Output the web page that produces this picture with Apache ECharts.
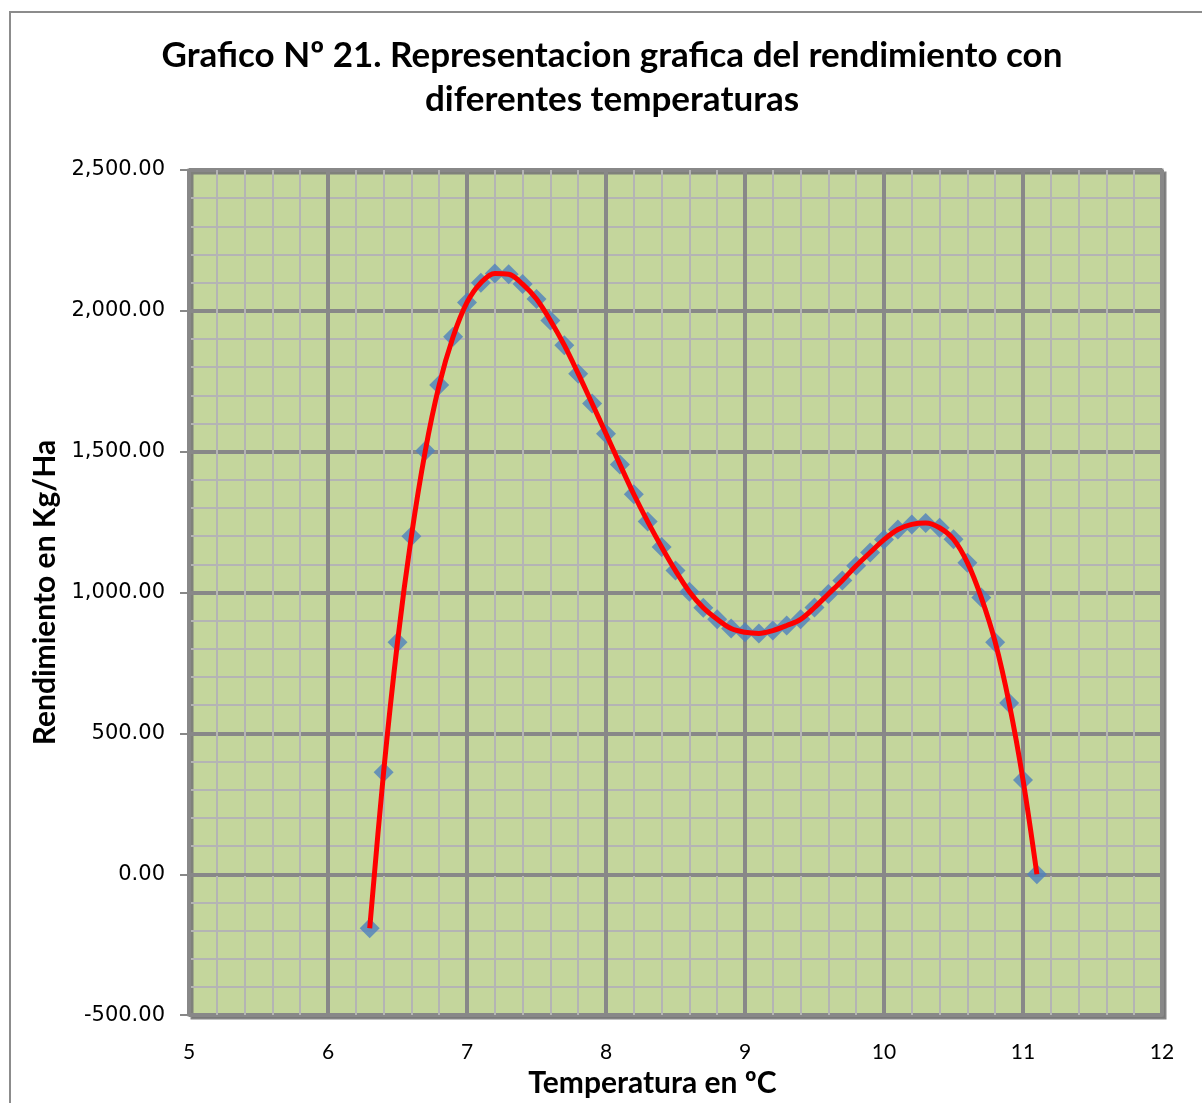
<!DOCTYPE html>
<html>
<head>
<meta charset="utf-8">
<script src="https://cdn.jsdelivr.net/npm/echarts@6/dist/echarts.min.js"></script>
<style>
  html, body { margin: 0; padding: 0; background: #fff; }
  #chart { width: 1202px; height: 1103px; }
</style>
</head>
<body>
<div id="chart"></div>
<script>
// temperaturas (ºC) y rendimiento (Kg/Ha)
const temperaturas = [
  6.3, 6.4, 6.5, 6.6, 6.7, 6.8, 6.9, 7.0, 7.1, 7.2,
  7.3, 7.4, 7.5, 7.6, 7.7, 7.8, 7.9, 8.0, 8.1, 8.2,
  8.3, 8.4, 8.5, 8.6, 8.7, 8.8, 8.9, 9.0, 9.1, 9.2,
  9.3, 9.4, 9.5, 9.6, 9.7, 9.8, 9.9, 10.0, 10.1, 10.2,
  10.3, 10.4, 10.5, 10.6, 10.7, 10.8, 10.9, 11.0, 11.1
]
const rendimiento = [
  -192, 362, 824, 1200, 1503, 1737, 1908, 2030, 2100, 2133,
  2130, 2095, 2042, 1966, 1878, 1777, 1671, 1564, 1455, 1349,
  1252, 1162, 1078, 1003, 946, 905, 872, 859, 855, 865,
  883, 905, 947, 995, 1043, 1095, 1142, 1188, 1224, 1242,
  1247, 1230, 1189, 1106, 982, 824, 608, 335, 0
]
const xTicks = [5, 12, 1] // min, max, intervalo
const yTicks = [-500, 2500, 500]

const puntos = temperaturas.map((t, i) => [t, rendimiento[i]])

const chart = echarts.init(document.getElementById('chart'))

const option = {
  animation: false,
  backgroundColor: '#ffffff',
  title: {
    text: 'Grafico Nº 21. Representacion grafica del rendimiento con\ndiferentes temperaturas',
    left: 607,
    top: 29,
    textAlign: 'center',
    textStyle: {
      fontFamily: 'Lato',
      fontWeight: 'bold',
      fontSize: 35,
      lineHeight: 44,
      color: '#000'
    }
  },
  // borde del area del grafico
  graphic: [
    {
      type: 'rect',
      shape: { x: 10, y: 12, width: 1220, height: 1120 },
      style: { fill: 'none', stroke: '#8c8c8c', lineWidth: 2 },
      silent: true
    }
  ],
  grid: {
    left: 189,
    right: 40,
    top: 170,
    bottom: 82,
    show: true,
    backgroundColor: '#c4d69c',
    borderColor: '#888888',
    borderWidth: 3,
    shadowColor: 'rgba(120,120,120,0.9)',
    shadowOffsetX: 3,
    shadowOffsetY: 3
  },
  xAxis: {
    type: 'value',
    min: xTicks[0],
    max: xTicks[1],
    interval: xTicks[2],
    name: 'Temperatura en ºC',
    nameLocation: 'middle',
    nameGap: 51,
    nameTextStyle: {
      fontFamily: 'Lato',
      fontWeight: 'bold',
      fontSize: 30,
      color: '#000',
      padding: [0, 46, 0, 0]
    },
    axisLine: { show: true, lineStyle: { color: '#888888', width: 3 } },
    axisTick: { show: false },
    axisLabel: {
      margin: 27,
      fontFamily: 'Lato',
      fontSize: 21,
      color: '#000'
    },
    splitLine: { show: true, lineStyle: { color: '#888888', width: 4 } },
    minorTick: { show: false, splitNumber: 5 },
    minorSplitLine: { show: true, lineStyle: { color: '#b4b4b4', width: 2 } }
  },
  yAxis: {
    type: 'value',
    min: yTicks[0],
    max: yTicks[1],
    interval: yTicks[2],
    name: 'Rendimiento en Kg/Ha',
    nameLocation: 'middle',
    nameGap: 129,
    nameTextStyle: {
      fontFamily: 'Lato',
      fontWeight: 'bold',
      fontSize: 30,
      color: '#000'
    },
    axisLine: { show: true, lineStyle: { color: '#888888', width: 3 } },
    axisTick: { show: true, length: 9, lineStyle: { color: '#888888', width: 2 } },
    axisLabel: {
      margin: 24,
      fontFamily: 'DejaVu Sans',
      fontSize: 21,
      color: '#000',
      formatter: v => v.toLocaleString('en-US', { minimumFractionDigits: 2, maximumFractionDigits: 2 })
    },
    splitLine: { show: true, lineStyle: { color: '#888888', width: 4 } },
    minorTick: { show: false, splitNumber: 5 },
    minorSplitLine: { show: true, lineStyle: { color: '#b4b4b4', width: 2 } }
  },
  series: [
    {
      // puntos observados
      type: 'scatter',
      data: puntos,
      symbol: 'diamond',
      symbolSize: [20, 20],
      itemStyle: { color: '#4f81bd' },
      z: 2
    },
    {
      // linea de tendencia
      type: 'line',
      data: puntos,
      smooth: 0.35,
      showSymbol: false,
      lineStyle: { color: '#ff0000', width: 5 },
      z: 3
    }
  ]
}

chart.setOption(option)
</script>
</body>
</html>
